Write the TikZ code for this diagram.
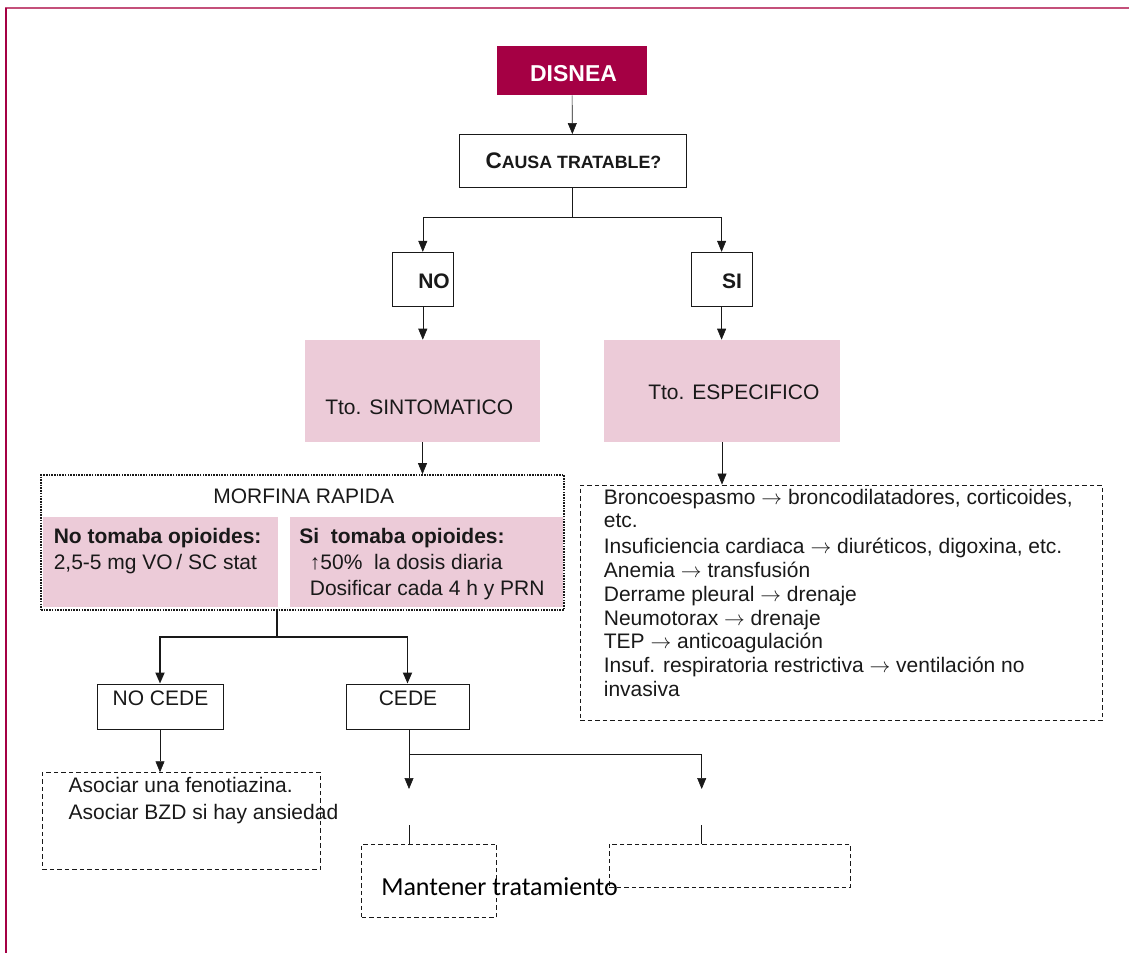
\documentclass[tikz,border=0pt]{standalone}
\usepackage{fontspec}
\setmainfont{Liberation Sans}
\newfontfamily\calibri{Carlito}
\usetikzlibrary{arrows.meta,positioning}

\definecolor{crimson}{RGB}{165,0,68}
\definecolor{framepink}{RGB}{196,80,122}
\definecolor{rose}{RGB}{236,203,216}
\definecolor{ink}{RGB}{25,25,25}

\newcommand{\lleva}{\ $\rightarrow$\ }

\begin{document}
\begin{tikzpicture}[x=1pt,
            y=-1pt,
            ->,
            >={Triangle[length=11pt,width=9pt]},
            semithick,
            draw=ink,
            size/.style 2 args={minimum width=#1pt,minimum height=#2pt,inner sep=0pt},
            plainbox/.style={draw=ink,line width=0.9pt,fill=white},
            rosebox/.style={fill=rose,draw=none},
            dashbox/.style={draw=ink,line width=0.9pt,dash pattern=on 4.5pt off 3pt},
            dotbox/.style={draw=ink,line width=1.7pt,dash pattern=on 1.6pt off 1.1pt},
            txt/.style={font=\fontsize{21}{25}\selectfont,text=ink,inner sep=0pt},
            boldtxt/.style={txt,font=\fontsize{21}{25}\selectfont\bfseries}]

        \useasboundingbox (0,0) rectangle (1129,953);

        % frame
        \draw[-,framepink,line width=2pt] (5,7.7) -- (1129,7.7);
        \draw[-,crimson,line width=1.6pt] (5.8,7.7) -- (5.8,953);

        % boxes
        \node[size={150}{49},fill=crimson]    (disnea)  at (572,70.5)    {};
        \node[size={227}{53},plainbox]         (causa)   at (572.5,161)   {};
        \node[size={61}{54.4},plainbox]        (no)      at (422.8,279.5) {};
        \node[size={61}{54.4},plainbox]        (si)      at (721.6,279.5) {};
        \node[size={235}{102},rosebox]         (sint)    at (422.5,391)   {};
        \node[size={236}{102},rosebox]         (espec)   at (722,391)     {};
        \node[size={523}{135},dotbox]          (morfina) at (302.5,542.5) {};
        \node[size={235}{90},rosebox]          (nopi)    at (160.5,562)   {};
        \node[size={273}{90},rosebox]          (sipi)    at (426.5,562)   {};
        \node[size={522}{235},dashbox]         (causas)  at (841,602.5)   {};
        \node[size={126}{45},plainbox]         (nocede)  at (160,706.5)   {};
        \node[size={123}{45},plainbox]         (cede)    at (407.5,706.5) {};
        \node[size={278.4}{96.6},dashbox]      (asociar) at (181.5,821)   {};
        \node[size={135}{73.3},dashbox]        (mant)    at (429.2,880.7) {};
        \node[size={240.7}{43.7},dashbox]      (vacio)   at (729.7,865.9) {};

        % texts
        \node[anchor=base,text=white,inner sep=0pt,font=\fontsize{23}{27}\selectfont\bfseries]
            (disneaTxt) at (573.5,81.5) {DISNEA};
        \node[anchor=base,txt,font=\bfseries]
            (causaTxt) at (573.4,168) {{\fontsize{22.5}{26}\selectfont C}{\fontsize{17.8}{20}\selectfont AUSA TRATABLE?}};
        \node[anchor=base,boldtxt] (noTxt) at (434,288.2) {NO};
        \node[anchor=base,boldtxt] (siTxt) at (732,288.2) {SI};
        \node[anchor=base west,txt] (sintTxt)  at (325,414.8) {Tto. SINTOMATICO};
        \node[anchor=base west,txt] (especTxt) at (648,399.5) {Tto. ESPECIFICO};
        \node[anchor=base west,txt] (morfinaTxt) at (213,503) {MORFINA RAPIDA};
        \node[anchor=north west,txt,align=left,font=\fontsize{21}{25.5}\selectfont] (nopiTxt) at (53.5,528)
            {\textbf{No tomaba opioides:}\\2,5-5 mg VO\,/ SC stat};
        \node[anchor=north west,txt,align=left,font=\fontsize{21}{26}\selectfont] (sipiTxt) at (299,528)
            {\textbf{Si\ \ tomaba opioides:}\\\hspace*{10.6pt}↑50\%\ \ la dosis diaria\\\hspace*{10.6pt}Dosificar cada 4 h y PRN};
        \node[anchor=north west,txt,align=left,font=\fontsize{21}{23.9}\selectfont] (causasTxt) at (603.6,489)
            {Broncoespasmo\lleva broncodilatadores, corticoides,\\[-1pt]
             etc.\\[2pt]
             Insuficiencia cardiaca\lleva diuréticos, digoxina, etc.\\
             Anemia\lleva transfusión\\
             Derrame pleural\lleva drenaje\\
             Neumotorax\lleva drenaje\\
             TEP\lleva anticoagulación\\
             Insuf. respiratoria restrictiva\lleva ventilación no\\
             invasiva};
        \node[anchor=base,txt] (nocedeTxt) at (160.5,705.5) {NO CEDE};
        \node[anchor=base,txt] (cedeTxt)   at (408,705.5)   {CEDE};
        \node[anchor=north west,txt,align=left,font=\fontsize{21}{27}\selectfont] (asociarTxt) at (68.3,777)
            {Asociar una fenotiazina.\\Asociar BZD si hay ansiedad};
        \node[anchor=base west,inner sep=0pt,text=black,font=\calibri\fontsize{26}{30}\selectfont]
            (mantTxt) at (381,895) {Mantener tratamiento};

        % connectors
        \coordinate (fork1) at (572.5,217);
        \coordinate (fork2) at (277,637);
        \coordinate (fork3) at (409,754.7);
        \coordinate (keepA) at (409,789);
        \coordinate (keepB) at (701.7,789);
        \coordinate (tickA) at (409,825);
        \coordinate (tickB) at (701.7,825);

        \draw (disnea) -- (causa);
        \draw[-] (causa) -- (fork1);
        \draw (fork1) -| (no);
        \draw (fork1) -| (si);
        \draw (no.south) -- (no.south |- sint.north);
        \draw (si.south) -- (si.south |- espec.north);
        \draw (sint.south) -- (sint.south |- morfina.north);
        \draw (espec.south) -- (espec.south |- causas.north);
        \draw[-,line width=1.8pt] (morfina.south -| fork2) -- (fork2);
        \draw[line width=1.8pt] (fork2) -| (nocede);
        \draw[line width=1.8pt] (fork2) -| (cede);
        \draw (nocede.south) -- (nocede.south |- asociar.north);
        \draw (cede.south -| fork3) -- (keepA);
        \draw (fork3) -| (keepB);
        \draw[-] (tickA) -- (tickA |- mant.north);
        \draw[-] (tickB) -- (tickB |- vacio.north);

    \end{tikzpicture}
\end{document}
